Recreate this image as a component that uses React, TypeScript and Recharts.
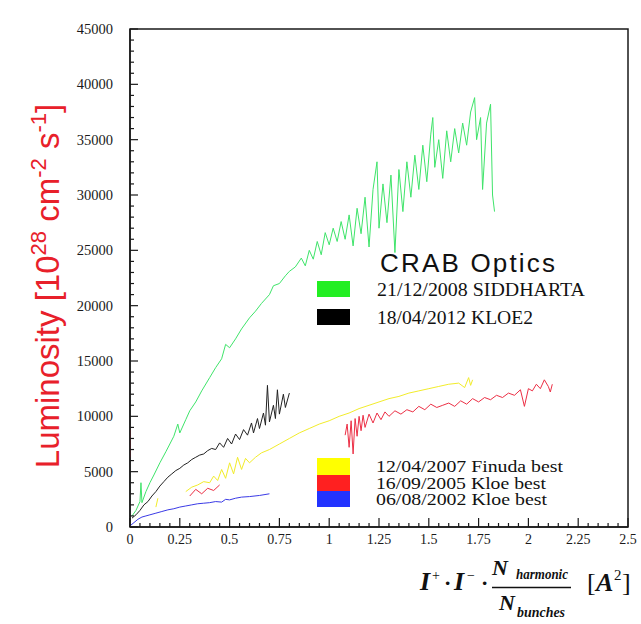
import React from "react";
import { LineChart, Line, XAxis, YAxis, ReferenceArea } from "recharts";

// ---- data ----
const greenX = [0.01, 0.03, 0.05, 0.055, 0.06, 0.08, 0.1, 0.12, 0.15, 0.18, 0.2, 0.22, 0.24, 0.25, 0.28, 0.3, 0.33, 0.36, 0.4, 0.43, 0.46, 0.48, 0.5, 0.53, 0.56, 0.6, 0.63, 0.66, 0.7, 0.72, 0.75, 0.78, 0.8, 0.83, 0.86, 0.88, 0.9, 0.92, 0.94, 0.96, 0.98, 1.0, 1.02, 1.04, 1.06, 1.08, 1.1, 1.12, 1.14, 1.16, 1.18, 1.2, 1.22, 1.24, 1.25, 1.27, 1.29, 1.31, 1.33, 1.35, 1.37, 1.39, 1.41, 1.43, 1.45, 1.47, 1.49, 1.51, 1.52, 1.53, 1.55, 1.57, 1.59, 1.61, 1.63, 1.65, 1.67, 1.69, 1.71, 1.73, 1.74, 1.76, 1.77, 1.79, 1.81, 1.82, 1.83];
const greenY = [1000, 1500, 2300, 4000, 2200, 3200, 4000, 4700, 5800, 6800, 7500, 8200, 9300, 8500, 9700, 10500, 11300, 12300, 13500, 14400, 15200, 16500, 16200, 17000, 17900, 18900, 19500, 20200, 21000, 21800, 22000, 22700, 23100, 23500, 24300, 23600, 25000, 24200, 25800, 24600, 26600, 25500, 27000, 25800, 27600, 26000, 28200, 25400, 28800, 26500, 29800, 25300, 30500, 33000, 27000, 31000, 27500, 31800, 24800, 32300, 28500, 33000, 29800, 33600, 30500, 34500, 31200, 35500, 37000, 32500, 35000, 31500, 35800, 33000, 36000, 33800, 36500, 34500, 37500, 38800, 35000, 37000, 30500, 36500, 38200, 30000, 28500];

const blackX = [0.01, 0.03, 0.05, 0.07, 0.09, 0.11, 0.13, 0.15, 0.17, 0.19, 0.21, 0.23, 0.25, 0.27, 0.29, 0.31, 0.33, 0.35, 0.37, 0.39, 0.41, 0.43, 0.45, 0.47, 0.49, 0.51, 0.53, 0.55, 0.57, 0.59, 0.61, 0.62, 0.64, 0.65, 0.67, 0.68, 0.69, 0.7, 0.72, 0.73, 0.74, 0.75, 0.77, 0.78, 0.8];
const blackY = [800, 1100, 1500, 2000, 2300, 2800, 3200, 3700, 4100, 4500, 4800, 5100, 5300, 5600, 5800, 6100, 6300, 6500, 6600, 6900, 7100, 7000, 7600, 7200, 8000, 7500, 8400, 7900, 8800, 8300, 9400, 8500, 9800, 8900, 10300, 9200, 12800, 9500, 11000, 9800, 12400, 10200, 12000, 10800, 12100];

const yellowX = [0.13, 0.14, 0.2, 0.28, 0.31, 0.34, 0.37, 0.4, 0.42, 0.44, 0.46, 0.48, 0.5, 0.52, 0.54, 0.56, 0.58, 0.6, 0.63, 0.66, 0.7, 0.75, 0.8, 0.85, 0.9, 0.95, 1.0, 1.05, 1.1, 1.15, 1.2, 1.25, 1.3, 1.35, 1.4, 1.45, 1.5, 1.55, 1.6, 1.65, 1.68, 1.7, 1.71, 1.72];
const yellowY = [1800, 2600, null, 3200, 3600, 3800, 4100, 4000, 4600, 4200, 5200, 4400, 5800, 4800, 6300, 5200, 6200, 5800, 6300, 6700, 7000, 7500, 8000, 8500, 8900, 9300, 9600, 10000, 10300, 10700, 11000, 11300, 11600, 11800, 12100, 12300, 12500, 12700, 12900, 13000, 12600, 13500, 12800, 13300];

const redX = [0.0, 0.001, 0.1, 0.3, 0.33, 0.36, 0.39, 0.42, 0.45, 0.6, 1.08, 1.09, 1.1, 1.11, 1.12, 1.13, 1.14, 1.15, 1.16, 1.17, 1.18, 1.2, 1.22, 1.24, 1.26, 1.28, 1.3, 1.33, 1.36, 1.39, 1.42, 1.45, 1.48, 1.51, 1.54, 1.57, 1.6, 1.63, 1.66, 1.69, 1.72, 1.75, 1.78, 1.81, 1.84, 1.87, 1.9, 1.93, 1.96, 1.98, 2.0, 2.02, 2.04, 2.06, 2.08, 2.1, 2.11, 2.12];
const redY = [6300, 8800, null, 2800, 3400, 3000, 3500, 3300, 3800, null, 8300, 9300, 7200, 9600, 6600, 9800, 8200, 10000, 8700, 10100, 9000, 10200, 9400, 10300, 9700, 10400, 10000, 10500, 10200, 10600, 10400, 10900, 10600, 11100, 10800, 11000, 11200, 10900, 11400, 11100, 11600, 11300, 11700, 11500, 11900, 11700, 12100, 11900, 12400, 10900, 12500, 12300, 12900, 12500, 13300, 12700, 12200, 12900];

const blueX = [0.0, 0.02, 0.04, 0.06, 0.08, 0.1, 0.13, 0.16, 0.19, 0.22, 0.25, 0.28, 0.31, 0.34, 0.37, 0.4, 0.43, 0.46, 0.48, 0.5, 0.53, 0.56, 0.6, 0.65, 0.7];
const blueY = [100, 400, 700, 900, 1000, 1100, 1250, 1400, 1550, 1650, 1800, 1900, 2000, 2100, 2150, 2200, 2300, 2250, 2500, 2450, 2600, 2700, 2750, 2850, 3000];

const legendTop = ["21/12/2008 SIDDHARTA", "18/04/2012 KLOE2"];
const legendBottom = ["12/04/2007 Finuda best", "16/09/2005 Kloe best", "06/08/2002 Kloe best"];

const xTicks = Array.from({ length: 51 }, (_, i) => i / 20);
const yTicks = Array.from({ length: 46 }, (_, i) => i * 1000);

const toPts = (xs: number[], ys: (number | null)[]) => xs.map((x, i) => ({ x, y: ys[i] }));

const SERIF = '"Liberation Serif", "Times New Roman", serif';
const SANS = '"Liberation Sans", Arial, sans-serif';
const AX = "#1a1a1a";

const XTick = (props: any) => {
  const { x, y, payload } = props;
  const v = payload.value;
  const i = Math.round(v * 20);
  const major = i % 5 === 0;
  return (
    <g>
      <line x1={x} x2={x} y1={y} y2={y - (major ? 9 : 4)} stroke={AX} strokeWidth={1.2} />
      {major && (
        <text x={x} y={y + 17} textAnchor="middle" fontFamily={SERIF} fontSize={14} fill={AX}>
          {String(v)}
        </text>
      )}
    </g>
  );
};

const YTick = (props: any) => {
  const { x, y, payload } = props;
  const v = payload.value;
  const major = Math.round(v / 1000) % 5 === 0;
  return (
    <g>
      <line x1={x} x2={x + (major ? 8 : 4)} y1={y} y2={y} stroke={AX} strokeWidth={1.2} />
      {major && (
        <text x={x - 17} y={y + 5} textAnchor="end" fontFamily={SERIF} fontSize={14.5} fill={AX}>
          {String(v)}
        </text>
      )}
    </g>
  );
};

export default function App() {
  return (
    <div style={{ position: "absolute", left: 0, top: 0, width: 641, height: 624, background: "#fff" }}>
      <LineChart width={641} height={624} margin={{ top: 29, right: 13, bottom: 0, left: 0 }}>
        <XAxis
          type="number"
          dataKey="x"
          domain={[0, 2.5]}
          ticks={xTicks}
          interval={0}
          height={97}
          tickSize={0}
          tickMargin={0}
          tickLine={false}
          axisLine={{ stroke: AX, strokeWidth: 1.5 }}
          tick={<XTick />}
          allowDataOverflow
        />
        <YAxis
          type="number"
          domain={[0, 45000]}
          ticks={yTicks}
          interval={0}
          width={130}
          tickSize={0}
          tickMargin={0}
          tickLine={false}
          axisLine={{ stroke: AX, strokeWidth: 1.5 }}
          tick={<YTick />}
          allowDataOverflow
        />
        <ReferenceArea x1={0} x2={2.5} y1={0} y2={45000} fill="none" stroke={AX} strokeWidth={1.5} />
        <Line data={toPts(yellowX, yellowY)} dataKey="y" stroke="#f2ec2a" strokeWidth={1} dot={false} isAnimationActive={false} type="linear" />
        <Line data={toPts(redX, redY)} dataKey="y" stroke="#ec2f45" strokeWidth={1} dot={false} isAnimationActive={false} type="linear" />
        <Line data={toPts(blueX, blueY)} dataKey="y" stroke="#3a3ae6" strokeWidth={1} dot={false} isAnimationActive={false} type="linear" />
        <Line data={toPts(blackX, blackY)} dataKey="y" stroke="#222" strokeWidth={1} dot={false} isAnimationActive={false} type="linear" />
        <Line data={toPts(greenX, greenY)} dataKey="y" stroke="#3fe46a" strokeWidth={1} dot={false} isAnimationActive={false} type="linear" />
      </LineChart>

      <svg width={641} height={624} style={{ position: "absolute", left: 0, top: 0, pointerEvents: "none" }}>
        {/* Y axis title */}
        <text
          transform="translate(59,286) rotate(-90)"
          textAnchor="middle"
          fontFamily={SANS}
          fontSize={33}
          fill="#e8202a"
        >
          Luminosity [10
          <tspan fontSize={22} dy={-13}>28</tspan>
          <tspan dy={13}> cm</tspan>
          <tspan fontSize={22} dy={-13}>-2</tspan>
          <tspan dy={13}> s</tspan>
          <tspan fontSize={22} dy={-13}>-1</tspan>
          <tspan dy={13}>]</tspan>
        </text>

        {/* Legend / title */}
        <text x={380} y={272} fontFamily={SANS} fontSize={26} fill="#111" textLength={175} lengthAdjust="spacing">
          CRAB Optics
        </text>
        <rect x={317} y={281} width={33} height={16} fill="#22ee22" />
        <text x={377} y={296} fontFamily={SERIF} fontSize={19} fill="#111" textLength={208} lengthAdjust="spacingAndGlyphs">{legendTop[0]}</text>
        <rect x={317} y={309} width={33} height={16} fill="#000" />
        <text x={377} y={324} fontFamily={SERIF} fontSize={19} fill="#111" textLength={156} lengthAdjust="spacingAndGlyphs">{legendTop[1]}</text>

        <rect x={317} y={458} width={33} height={17} fill="#ffff00" />
        <rect x={317} y={475} width={33} height={16} fill="#ff2020" />
        <rect x={317} y={491} width={33} height={16} fill="#2233ff" />
        <text x={376} y={472} fontFamily={SERIF} fontSize={17.5} fill="#111" textLength={187} lengthAdjust="spacingAndGlyphs">{legendBottom[0]}</text>
        <text x={376} y={488.5} fontFamily={SERIF} fontSize={17.5} fill="#111" textLength={170} lengthAdjust="spacingAndGlyphs">{legendBottom[1]}</text>
        <text x={376} y={505} fontFamily={SERIF} fontSize={17.5} fill="#111" textLength={171} lengthAdjust="spacingAndGlyphs">{legendBottom[2]}</text>

        {/* X axis title (formula) */}
        <g fontFamily={SERIF} fill="#111">
          <text x={420} y={590} fontSize={26} fontWeight="bold" fontStyle="italic">I</text>
          <text x={432} y={580} fontSize={14}>+</text>
          <text x={444} y={590} fontSize={22} fontWeight="bold">·</text>
          <text x={454} y={590} fontSize={26} fontWeight="bold" fontStyle="italic">I</text>
          <text x={467} y={580} fontSize={14}>−</text>
          <text x={481} y={590} fontSize={22} fontWeight="bold">·</text>
          <text x={492} y={575} fontSize={22} fontWeight="bold" fontStyle="italic">N</text>
          <text x={516} y={579} fontSize={15} fontWeight="bold" fontStyle="italic" textLength={52} lengthAdjust="spacingAndGlyphs">harmonic</text>
          <line x1={492} x2={571} y1={587.5} y2={587.5} stroke="#111" strokeWidth={1.3} />
          <text x={499} y={610} fontSize={22} fontWeight="bold" fontStyle="italic">N</text>
          <text x={517} y={617} fontSize={15} fontWeight="bold" fontStyle="italic" textLength={48} lengthAdjust="spacingAndGlyphs">bunches</text>
          <text x={587} y={591} fontSize={26}>[</text>
          <text x={596} y={591} fontSize={26} fontWeight="bold" fontStyle="italic">A</text>
          <text x={614} y={580} fontSize={15}>2</text>
          <text x={622} y={591} fontSize={26}>]</text>
        </g>
      </svg>
    </div>
  );
}
